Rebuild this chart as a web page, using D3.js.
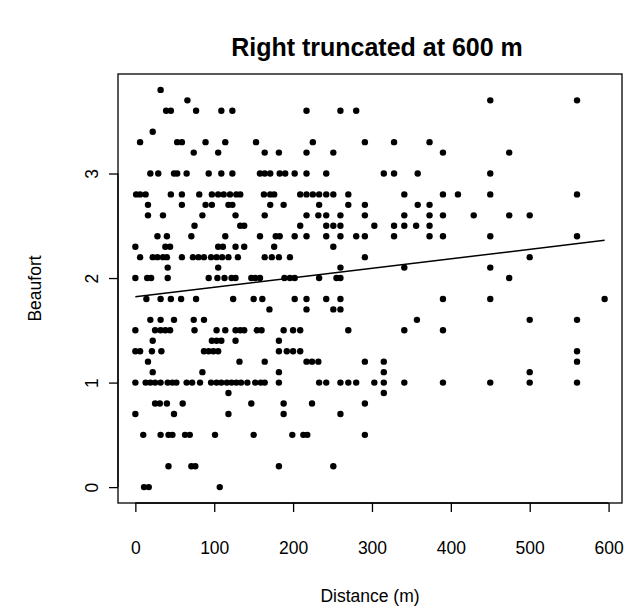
<!DOCTYPE html>
<html>
<head>
<meta charset="utf-8">
<script src="https://cdn.jsdelivr.net/npm/d3@7"></script>
<style>
  body { margin: 0; background: #fff; }
  text { font-family: "Liberation Sans", Arial, sans-serif; fill: #000; }
</style>
</head>
<body>
<svg id="chart" width="637" height="610"></svg>
<script>
// Beaufort levels (rows) and the distances seen on each row
const beaufortLevels = [3.8, 3.7, 3.6, 3.4, 3.3, 3.2, 3.0, 2.8, 2.7, 2.6, 2.5, 2.4, 2.3, 2.2, 2.1, 2.0,
                        1.8, 1.7, 1.6, 1.5, 1.4, 1.3, 1.2, 1.1, 1.0, 0.9, 0.8, 0.7, 0.5, 0.2, 0.0];
const distanceByLevel = [
  [32],
  [66, 450, 560],
  [39, 45, 77, 109, 123, 217, 260, 280],
  [22],
  [6, 53, 59, 89, 114, 153, 225, 291, 328, 373],
  [74, 105, 164, 182, 217, 251, 390, 474],
  [19, 29, 49, 53, 65, 93, 109, 123, 158, 164, 171, 183, 190, 202, 217, 242, 315, 328, 358, 450],
  [1, 6, 13, 45, 59, 81, 97, 105, 112, 120, 128, 133, 163, 171, 176, 209, 217, 225, 233, 242, 251, 270, 341, 390, 409, 450, 560],
  [16, 59, 89, 97, 118, 123, 171, 188, 233, 270, 291, 358, 373],
  [16, 35, 85, 127, 164, 217, 232, 242, 260, 291, 341, 373, 390, 429, 474, 500],
  [75, 133, 138, 209, 242, 251, 260, 303, 328, 341, 356, 373],
  [28, 40, 71, 114, 158, 178, 183, 202, 217, 242, 260, 280, 291, 328, 373, 390, 450, 560],
  [0, 38, 44, 105, 111, 127, 138, 176, 251],
  [6, 22, 28, 35, 40, 59, 73, 80, 87, 96, 103, 110, 118, 130, 164, 173, 182, 196, 291, 500],
  [41, 105, 260, 341, 450],
  [0, 15, 20, 41, 93, 104, 113, 122, 127, 147, 152, 158, 189, 196, 202, 233, 255, 260, 474],
  [14, 32, 45, 58, 77, 124, 150, 161, 202, 217, 242, 260, 390, 450, 595],
  [170, 217, 251, 260],
  [19, 32, 49, 74, 87, 357, 500, 560],
  [0, 25, 32, 38, 44, 75, 103, 114, 127, 133, 138, 154, 160, 188, 200, 209, 270, 341, 390],
  [22, 97, 103, 109, 127, 182],
  [0, 6, 21, 33, 87, 93, 99, 105, 182, 192, 200, 209, 560],
  [16, 132, 164, 217, 224, 232, 291, 315, 560],
  [22, 85, 182, 315, 500],
  [0, 13, 19, 25, 32, 41, 47, 52, 65, 72, 82, 96, 103, 109, 116, 122, 128, 134, 142, 152, 159, 164, 182,
   233, 242, 260, 270, 280, 303, 315, 341, 390, 450, 500, 560],
  [118, 315],
  [25, 31, 40, 60, 147, 188, 224, 291],
  [0, 49, 118, 188, 260],
  [10, 32, 42, 47, 63, 69, 101, 150, 199, 213, 218, 291],
  [42, 71, 76, 182, 251],
  [11, 17, 107]
];

const xTicks = [0, 100, 200, 300, 400, 500, 600];
const yTicks = [0, 1, 2, 3];

// fitted line
const fitIntercept = 1.82;
const fitSlope = 0.00091;

const points = [];
beaufortLevels.forEach((b, i) => {
  distanceByLevel[i].forEach(d => points.push({ dist: d, beau: b }));
});

const svg = d3.select("#chart"),
      margin = {top: 74, right: 15, bottom: 107, left: 118},
      width = +svg.attr("width") - margin.left - margin.right,
      height = +svg.attr("height") - margin.top - margin.bottom;

const g = svg.append("g")
             .attr("transform", `translate(${margin.left},${margin.top})`);

// R style 4% padding on the data range
const xExt = d3.extent(points, d => d.dist),
      yExt = d3.extent(points, d => d.beau);
const xPad = (xExt[1] - xExt[0]) * 0.037,
      yPad = (yExt[1] - yExt[0]) * 0.04;

const x = d3.scaleLinear()
            .domain([xExt[0] - xPad, xExt[1] + xPad])
            .range([0, width]);

const y = d3.scaleLinear()
            .domain([yExt[0] - yPad, yExt[1] + yPad])
            .range([height, 0]);

// box
g.append("rect")
 .attr("width", width)
 .attr("height", height)
 .attr("fill", "none")
 .attr("stroke", "#000")
 .attr("stroke-width", 1.3);

// x axis
const xAxis = g.append("g")
 .attr("transform", `translate(0,${height})`)
 .call(d3.axisBottom(x).tickValues(xTicks).tickSize(9).tickPadding(42));
xAxis.select(".domain").attr("d", `M${x(0)},0H${x(600)}`).attr("stroke-width", 1.3);
xAxis.selectAll("line").attr("stroke-width", 1.3);
xAxis.selectAll("text").style("font-size", "17.5px").attr("dy", "0");

// y axis, labels turned like R
const yAxis = g.append("g")
 .call(d3.axisLeft(y).tickValues(yTicks).tickFormat(d3.format("d")).tickSize(9));
yAxis.select(".domain").attr("d", `M0,${y(0)}V${y(3)}`).attr("stroke-width", 1.3);
yAxis.selectAll("line").attr("stroke-width", 1.3);
yAxis.selectAll("text")
 .style("font-size", "17.5px")
 .attr("x", null)
 .attr("text-anchor", "middle")
 .attr("transform", "translate(-20,0) rotate(-90)")
 .attr("dy", "0");

// points
g.selectAll("circle")
 .data(points)
 .enter().append("circle")
   .attr("cx", d => x(d.dist))
   .attr("cy", d => y(d.beau))
   .attr("r", 3.2)
   .attr("fill", "#000");

// fitted line across the data
const xLine = [0, xExt[1]];
g.append("line")
 .attr("x1", x(xLine[0]))
 .attr("y1", y(fitIntercept + fitSlope * xLine[0]))
 .attr("x2", x(xLine[1]))
 .attr("y2", y(fitIntercept + fitSlope * xLine[1]))
 .attr("stroke", "#000")
 .attr("stroke-width", 1.5);

// titles
svg.append("text")
 .attr("x", margin.left + width / 2 + 7)
 .attr("y", 56)
 .attr("text-anchor", "middle")
 .style("font-size", "25px")
 .style("font-weight", "bold")
 .text("Right truncated at 600 m");

svg.append("text")
 .attr("x", margin.left + width / 2)
 .attr("y", 602)
 .attr("text-anchor", "middle")
 .style("font-size", "17.5px")
 .text("Distance (m)");

svg.append("text")
 .attr("transform", `translate(41,${margin.top + height / 2}) rotate(-90)`)
 .attr("text-anchor", "middle")
 .style("font-size", "17.5px")
 .text("Beaufort");
</script>
</body>
</html>
